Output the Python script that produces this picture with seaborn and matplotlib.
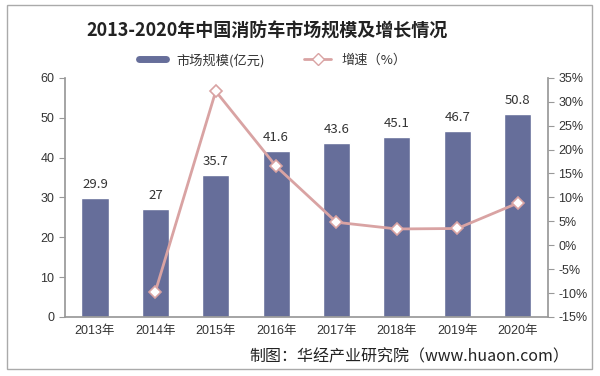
import matplotlib
matplotlib.use("Agg")
import matplotlib.pyplot as plt
import seaborn as sns
import pandas as pd
import numpy as np
from matplotlib.lines import Line2D
from matplotlib.patches import Rectangle

years = ["2013年", "2014年", "2015年", "2016年", "2017年", "2018年", "2019年", "2020年"]
market = [29.9, 27, 35.7, 41.6, 43.6, 45.1, 46.7, 50.8]
growth = [np.nan, -9.7, 32.2, 16.5, 4.8, 3.4, 3.5, 8.8]
left_ticks = [0, 10, 20, 30, 40, 50, 60]
right_ticks = [-15, -10, -5, 0, 5, 10, 15, 20, 25, 30, 35]

sns.set_theme(style="white")
plt.rcParams['font.family'] = ['Noto Sans CJK SC', 'DejaVu Sans']

bar_color = "#666e9a"
line_color = "#d9a3a3"
txt = "#333333"

df = pd.DataFrame({"year": years, "market": market, "growth": growth})
df["pos"] = np.arange(len(df))

fig = plt.figure(figsize=(6, 3.76), dpi=100)
fig.patch.set_facecolor("white")
ax = fig.add_axes([0.108, 0.157, 0.805, 0.636])

sns.barplot(data=df, x="year", y="market", color=bar_color, width=0.45,
            saturation=1, ax=ax)
ax.set_xlim(-0.5, len(years) - 0.5)
ax.set_ylim(0, 60)
ax.set_yticks(left_ticks)
ax.set_xlabel("")
ax.set_ylabel("")
for p, v in zip(ax.patches, market):
    ax.text(p.get_x() + p.get_width() / 2, v + 1.8, f"{v:g}", ha="center",
            va="bottom", fontsize=9.5, color=txt)

ax2 = ax.twinx()
sns.lineplot(data=df.dropna(), x="pos", y="growth", color=line_color, lw=2,
             marker="D", markersize=6, markerfacecolor="white",
             markeredgecolor=line_color, markeredgewidth=1.2, ax=ax2)
ax2.set_ylim(-15, 35)
ax2.set_yticks(right_ticks)
ax2.set_yticklabels([f"{t}%" for t in right_ticks])
ax2.set_xlabel("")
ax2.set_ylabel("")
ax2.set_xlim(-0.5, len(years) - 0.5)

for a in (ax, ax2):
    for s in a.spines.values():
        s.set_visible(False)
    a.tick_params(axis="both", labelsize=9, colors=txt)
ax.spines["left"].set_visible(True)
ax.spines["left"].set_color("#999999")
ax.spines["bottom"].set_visible(True)
ax.spines["bottom"].set_color("#999999")
ax2.spines["right"].set_visible(True)
ax2.spines["right"].set_color("#999999")
ax.tick_params(axis="y", which="major", length=4, width=0.8, color="#999999", direction="out", left=True)
ax.tick_params(axis="x", length=0, pad=6)
ax2.tick_params(axis="y", which="major", length=4, width=0.8, color="#999999", direction="out", right=True)
for lab in ax.get_yticklabels() + ax2.get_yticklabels() + ax.get_xticklabels():
    lab.set_fontfamily(['Liberation Sans', 'Noto Sans CJK SC'])
    lab.set_color(txt)

fig.text(0.445, 0.918, "2013-2020年中国消防车市场规模及增长情况", ha="center", va="center",
         fontsize=13, fontweight="bold", color="#222222")

handles = [
    Line2D([0], [0], color=bar_color, lw=5),
    Line2D([0], [0], color=line_color, lw=2, marker="D", markersize=6,
           markerfacecolor="white", markeredgecolor=line_color),
]
fig.legend(handles, ["市场规模(亿元)", "增速（%）"], loc="center", bbox_to_anchor=(0.455, 0.84),
           ncol=2, frameon=False, fontsize=9.5, handlelength=2.0, columnspacing=3,
           labelcolor=txt)

fig.text(0.415, 0.05, "制图：华经产业研究院（www.huaon.com）", ha="left", va="center",
         fontsize=11.5, color="#222222")

fig.add_artist(Rectangle((0.012, 0.018), 0.975, 0.968, transform=fig.transFigure,
                         fill=False, edgecolor="#aaaaaa", lw=1))

fig.savefig("out.png", dpi=100, facecolor="white")
